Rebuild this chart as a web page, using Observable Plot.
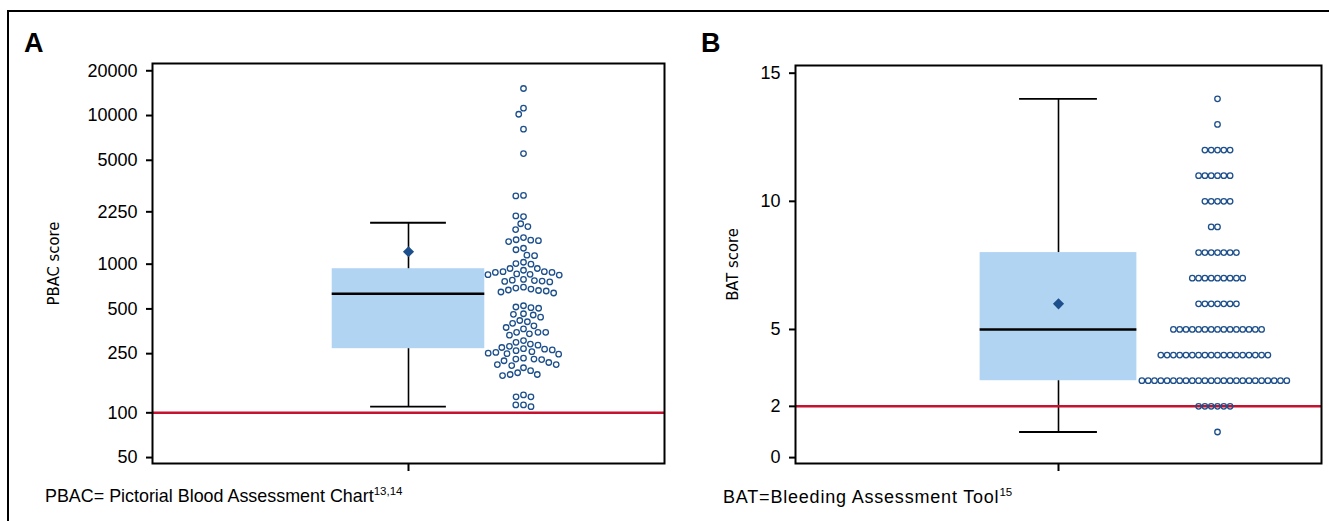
<!DOCTYPE html>
<html><head><meta charset="utf-8">
<script src="https://cdn.jsdelivr.net/npm/d3@7"></script>
<script src="https://cdn.jsdelivr.net/npm/@observablehq/plot@0.6"></script>
<style>
html,body{margin:0;padding:0;background:#fff;}
#wrap{position:relative;width:1329px;height:521px;overflow:hidden;font-family:"Liberation Sans",Arial,Helvetica,sans-serif;color:#000;}
#outer{position:absolute;left:7px;top:10px;width:1400px;height:600px;border-left:2.5px solid #000;border-top:2.5px solid #000;}
.panel{position:absolute;top:0;}
.letter{position:absolute;font-weight:bold;font-size:27px;line-height:1;}
.cap{position:absolute;font-size:17.9px;line-height:1;white-space:nowrap;}
.cap sup{font-size:11.5px;vertical-align:0;position:relative;top:-7px;letter-spacing:0;}
svg g[aria-label="tick-label"] text{letter-spacing:1px;}
</style>
</head><body>
<div id="wrap">
  <div id="outer"></div>
  <div id="pA" class="panel" style="left:0px"></div>
  <div id="pB" class="panel" style="left:680px"></div>
  <div class="letter" style="left:24px;top:29.5px">A</div>
  <div class="letter" style="left:701px;top:29.5px">B</div>
  <div class="cap" style="left:45px;top:488px">PBAC= Pictorial Blood Assessment Chart<sup>13,14</sup></div>
  <div class="cap" style="left:723px;top:488px;font-size:18px;letter-spacing:0.8px">BAT=Bleeding Assessment Tool<sup>15</sup></div>
</div>
<script>
// ---- Panel A: PBAC scores (log scale) ----
const pbacScores = [
  15200, 11200, 10200, 8100, 5550, 2900, 2880,
  2090, 2110, 1870, 1790, 1710,
  1510, 1460, 1450, 1440, 1420,
  1280, 1250, 1150, 1140,
  1030, 1010, 1000, 935, 935, 910, 890, 890, 880, 880, 860, 855, 850, 845,
  790, 780, 775, 770, 765, 760,
  700, 690, 680, 670, 665, 660, 650, 640,
  525, 515, 510, 505,
  464, 460, 455,
  440, 418, 410, 400,
  385, 375, 367, 348, 348, 348, 340, 333,
  306, 298,
  290, 285, 280, 275, 270, 268, 265, 262, 258, 255, 252, 250,
  248, 233,
  201,
  230, 230, 228, 224, 218, 211, 211, 208,
  192, 186, 181, 181, 178,
  132, 128, 128,
  113, 113, 110
];
const pbacStats = [110, 270, 633, 932, 1900]; // lower whisker, Q1, median, Q3, upper whisker
const pbacMean = 1213;
const pbacCutoff = 100;
const pbacTicks = [50, 100, 250, 500, 1000, 2250, 5000, 10000, 20000];

// ---- Panel B: BAT scores ----
const batScores = [
  14,
  13,
  12, 12, 12, 12, 12,
  11, 11, 11, 11, 11, 11,
  10, 10, 10, 10, 10,
  9, 9,
  8, 8, 8, 8, 8, 8, 8,
  7, 7, 7, 7, 7, 7, 7, 7, 7,
  6, 6, 6, 6, 6, 6, 6,
  5, 5, 5, 5, 5, 5, 5, 5, 5, 5, 5, 5, 5, 5, 5,
  4, 4, 4, 4, 4, 4, 4, 4, 4, 4, 4, 4, 4, 4, 4, 4, 4, 4,
  3, 3, 3, 3, 3, 3, 3, 3, 3, 3, 3, 3, 3, 3, 3, 3, 3, 3, 3, 3, 3, 3, 3, 3,
  2, 2, 2, 2, 2, 2,
  1
];
const batStats = [1, 3, 5, 8, 14];
const batMean = 6.0;
const batCutoff = 2;
const batTicks = [0, 2, 5, 10, 15];

const navy = "#1c4f8b", boxBlue = "#b2d4f3", red = "#c4122f";
const BOX = 0.298, CAP = 0.148;
const narrow = "'Liberation Sans Narrow','DejaVu Sans Condensed','Roboto Condensed',sans-serif";

function panel(o) {
  return Plot.plot({
    width: o.width, height: o.height,
    marginLeft: o.ml, marginRight: o.mr, marginTop: o.mt, marginBottom: o.mb,
    style: {background: "transparent", fontFamily: "'Liberation Sans',Arial,sans-serif", overflow: "visible"},
    x: {domain: [-1, 1]},
    y: o.y,
    marks: [
      Plot.rect([o.stats], {x1: -BOX, x2: BOX, y1: d => d[1], y2: d => d[3], fill: boxBlue}),
      Plot.ruleX([o.stats], {x: 0, y1: d => d[0], y2: d => d[1], stroke: "#000", strokeWidth: 1.6}),
      Plot.ruleX([o.stats], {x: 0, y1: d => d[3], y2: d => d[4], stroke: "#000", strokeWidth: 1.6}),
      Plot.ruleY([o.stats[0], o.stats[4]], {y: d => d, x1: -CAP, x2: CAP, stroke: "#000", strokeWidth: 1.8}),
      Plot.ruleY([o.stats[2]], {y: d => d, x1: -BOX, x2: BOX, stroke: "#000", strokeWidth: 2.5}),
      Plot.dot([o.mean], {x: 0, y: d => d, symbol: "diamond2", r: 5, fill: navy, stroke: "none"}),
      Plot.ruleY([o.cutoff], {y: d => d, stroke: red, strokeWidth: 2.5}),
      Plot.dot(o.scores, Plot.dodgeX({anchor: "middle", padding: o.padding},
        {y: d => d, r: 2.75, stroke: navy, strokeWidth: 1.3, fill: "none", dx: o.dotDx})),
      Plot.axisY(o.ticks, {tickFormat: () => "", tickSize: 6, strokeWidth: 2, label: null}),
      Plot.text(o.ticks, {y: d => d, text: d => String(d), frameAnchor: "left", textAnchor: "end", dx: -15,
        fontSize: 18, fill: "#000", ariaLabel: "tick-label"}),
      Plot.axisX([0], {tickFormat: () => "", tickSize: 8, strokeWidth: 2, label: null}),
      Plot.text([o.label], {frameAnchor: "left", textAnchor: "middle", dx: o.labelDx, rotate: -90,
        fontSize: 16.5, fontFamily: narrow, fill: "#000"}),
      Plot.frame({stroke: "#000", strokeWidth: 2})
    ]
  });
}

document.getElementById("pA").appendChild(panel({
  width: 680, height: 490, ml: 152, mr: 16, mt: 63, mb: 27,
  y: {type: "log", domain: [45.6, 22390]},
  stats: pbacStats, mean: pbacMean, cutoff: pbacCutoff, ticks: pbacTicks,
  scores: pbacScores, padding: 2.2, dotDx: 115, label: "PBAC score", labelDx: -99
}));
document.getElementById("pB").appendChild(panel({
  width: 649, height: 490, ml: 115, mr: 8, mt: 65, mb: 27,
  y: {type: "linear", domain: [-0.23, 15.3]},
  stats: batStats, mean: batMean, cutoff: batCutoff, ticks: batTicks,
  scores: batScores, padding: 0.8, dotDx: 159, label: "BAT score", labelDx: -63
}));
</script>
</body></html>
